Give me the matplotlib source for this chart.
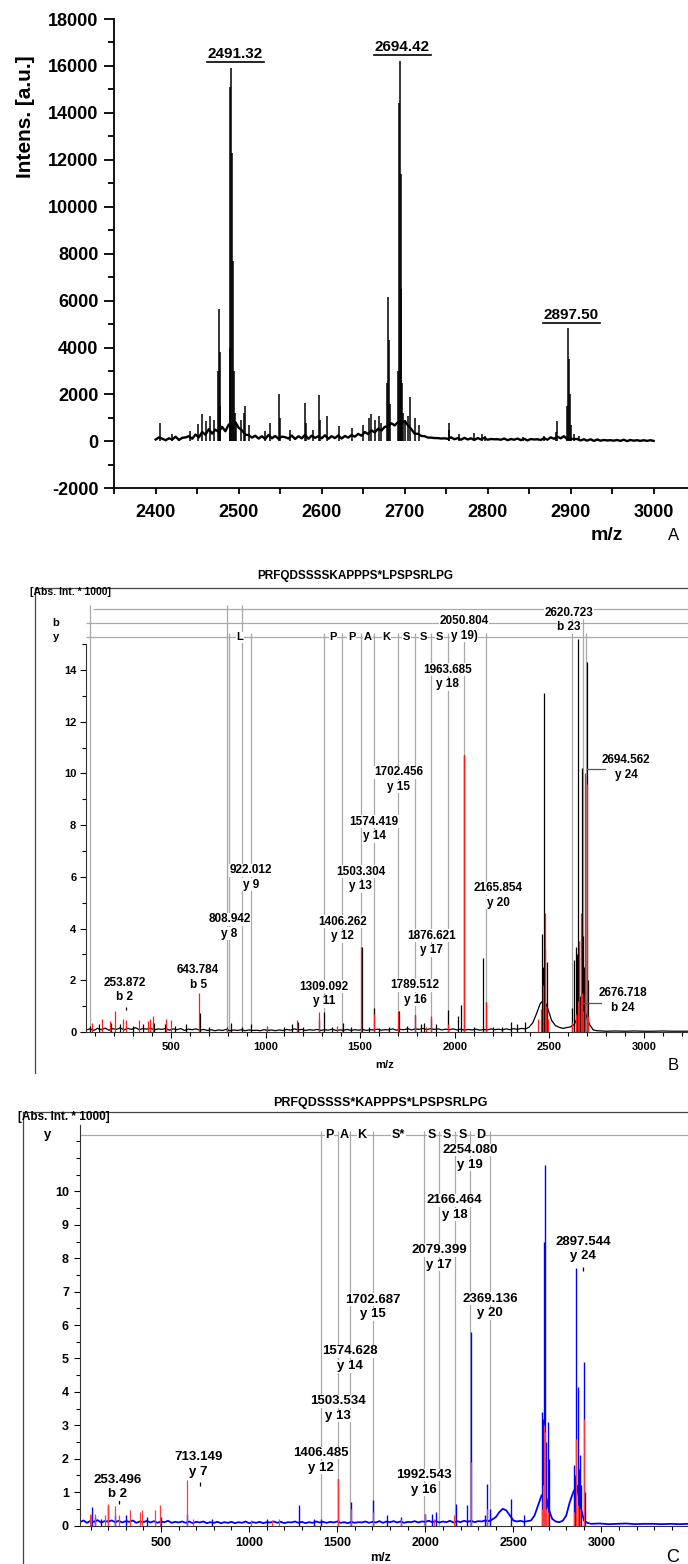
import matplotlib
matplotlib.use('Agg')
import matplotlib.pyplot as plt
from matplotlib.ticker import MultipleLocator, FixedLocator
from matplotlib.lines import Line2D

plt.rcParams['font.family'] = ['Liberation Sans', 'DejaVu Sans']
plt.rcParams['axes.unicode_minus'] = False

# ===================== DATA =====================
# ---- Panel A: MALDI-TOF MS spectrum ----
a_base_mz = list(range(2400, 3001, 4))
a_base_int = [80, 170, 110, 50, 130, 80, 200, 60, 150, 170,
              220, 110, 290, 170, 400, 280, 520, 330, 500, 400,
              620, 430, 720, 530, 820, 580, 470, 280, 270, 160,
              240, 120, 220, 100, 280, 130, 230, 110, 200, 180,
              120, 250, 100, 220, 130, 280, 110, 240, 150, 220,
              130, 260, 110, 220, 140, 250, 120, 230, 160, 270,
              200, 320, 240, 400, 310, 470, 380, 540, 460, 620,
              650, 770, 680, 820, 730, 870, 680, 520, 330, 320,
              230, 220, 160, 160, 140, 140, 120, 130, 110, 170,
              90, 140, 70, 150, 80, 130, 60, 140, 80, 150,
              70, 100, 90, 90, 70, 120, 50, 100, 70, 120,
              50, 110, 40, 100, 80, 90, 60, 140, 70, 170,
              110, 200, 130, 220, 90, 110, 100, 100, 40, 90,
              30, 90, 20, 80, 30, 60, 40, 50, 30, 60,
              20, 70, 10, 60, 30, 50, 20, 50, 20, 50,
              20]
a_peak_mz = [2405, 2420, 2441, 2451, 2456, 2461, 2466, 2470, 2475, 2476, 2477, 2478,
             2489, 2490, 2491, 2492, 2493, 2494, 2495, 2497, 2503, 2506, 2508, 2513,
             2532, 2538, 2549, 2550, 2562, 2580, 2581, 2590, 2597, 2598, 2607, 2621,
             2637, 2650, 2657, 2660, 2664, 2669, 2672, 2679, 2680, 2681, 2682, 2692,
             2693, 2694, 2695, 2696, 2697, 2698, 2700, 2704, 2707, 2712, 2717, 2753,
             2754, 2766, 2783, 2793, 2797, 2842, 2868, 2882, 2883, 2896, 2897, 2898,
             2899, 2900, 2904, 2910]
a_peak_int = [780, 300, 450, 750, 1170, 850, 1070, 900, 3000, 5650, 3800, 1500,
              4000, 15100, 15900, 12300, 7700, 3000, 1200, 700, 900, 1200, 1520, 700,
              450, 770, 2020, 1000, 500, 1640, 800, 500, 1960, 900, 1070, 650,
              550, 700, 1000, 1150, 900, 1100, 800, 2500, 6140, 4300, 1600, 3000,
              14400, 16230, 11400, 6500, 2500, 1200, 900, 1100, 1880, 1000, 700, 800,
              500, 300, 350, 310, 250, 200, 250, 400, 850, 1500, 4850, 3500,
              2000, 700, 300, 250]
a_labels = ['2491.32', '2694.42', '2897.50']
a_label_mz = [2496, 2697, 2901]
a_label_int = [16490, 16790, 5400]
a_xticks = [2400, 2500, 2600, 2700, 2800, 2900, 3000]

# ---- Panel B: MS/MS of PRFQDSSSSKAPPPS*LPSPSRLPG ----
b_title = 'PRFQDSSSSKAPPPS*LPSPSRLPG'
b_base_mz = list(range(52, 2733, 20)) + [2752, 2800, 2850, 2900, 2950, 3000, 3050, 3100, 3150, 3200, 3233]
b_base_int = [0.08, 0.12, 0.06, 0.14, 0.09, 0.15, 0.07, 0.13, 0.10, 0.16,
              0.08, 0.14, 0.10, 0.17, 0.09, 0.13, 0.11, 0.15, 0.08, 0.12,
              0.10, 0.14, 0.07, 0.12, 0.09, 0.13, 0.06, 0.11, 0.09, 0.12,
              0.07, 0.10, 0.06, 0.09, 0.05, 0.08, 0.06, 0.10, 0.05, 0.08,
              0.06, 0.09, 0.05, 0.08, 0.06, 0.07, 0.05, 0.09, 0.06, 0.08,
              0.05, 0.08, 0.06, 0.10, 0.07, 0.12, 0.08, 0.10, 0.06, 0.09,
              0.07, 0.10, 0.06, 0.09, 0.07, 0.11, 0.06, 0.08, 0.07, 0.10,
              0.06, 0.09, 0.07, 0.10, 0.06, 0.09, 0.08, 0.11, 0.07, 0.09,
              0.08, 0.12, 0.07, 0.10, 0.09, 0.13, 0.08, 0.12, 0.10, 0.14,
              0.09, 0.13, 0.10, 0.12, 0.08, 0.11, 0.09, 0.12, 0.08, 0.11,
              0.07, 0.10, 0.08, 0.11, 0.07, 0.10, 0.08, 0.12, 0.09, 0.11,
              0.08, 0.12, 0.09, 0.13, 0.10, 0.14, 0.12, 0.18, 0.35, 0.70,
              1.10, 1.25, 0.90, 0.45, 0.25, 0.18, 0.14, 0.17, 0.20, 0.30,
              0.60, 0.90, 0.70, 0.30, 0.08,
              0.05, 0.03, 0.04, 0.03, 0.04, 0.03, 0.03, 0.04, 0.03, 0.03, 0.03]
b_blk_mz = [74, 120, 185, 230, 300, 350, 410, 470, 520, 580, 651, 700, 796, 817, 878, 922,
            1010, 1100, 1140, 1170, 1200, 1284, 1310, 1350, 1409, 1450, 1509, 1545, 1574,
            1600, 1650, 1706, 1750, 1790, 1820, 1840, 1876, 1900, 1964, 2019, 2032, 2050,
            2100, 2148, 2164, 2200, 2250, 2296, 2330, 2370, 2461, 2466, 2472, 2478, 2490,
            2622, 2631, 2640, 2644, 2654, 2661, 2666, 2672, 2677, 2683, 2698, 2703]
b_blk_int = [0.25, 0.3, 0.35, 0.3, 0.25, 0.3, 0.35, 0.3, 0.25, 0.3, 0.75, 0.2, 0.2, 0.35, 0.2, 0.3,
             0.2, 0.2, 0.3, 0.4, 0.2, 0.5, 0.78, 0.2, 0.36, 0.2, 3.3, 0.2, 0.94,
             0.15, 0.2, 0.8, 0.25, 0.66, 0.3, 0.35, 0.5, 0.3, 0.84, 0.6, 1.05, 10.7,
             0.2, 2.85, 1.15, 0.2, 0.2, 0.4, 0.3, 0.4, 3.8, 2.5, 13.1, 3.2, 2.7,
             0.93, 2.8, 3.3, 3.0, 15.2, 1.4, 3.6, 10.2, 3.7, 2.5, 14.3, 2.0]
b_red_mz = [81, 134, 178, 202, 244, 260, 331, 380, 389, 403, 472, 498, 650, 796, 1009, 1164,
            1284, 1376, 1504, 1574, 1702, 1789, 1850, 1876, 1963, 2050, 2164, 2440, 2455,
            2466, 2477, 2485, 2495, 2620, 2640, 2650, 2655, 2665, 2672, 2680, 2690, 2697, 2705]
b_red_int = [0.35, 0.5, 0.44, 0.8, 0.5, 0.45, 0.47, 0.43, 0.5, 0.62, 0.5, 0.45, 1.5, 0.17, 0.23, 0.47,
             0.76, 0.25, 3.3, 0.7, 0.8, 0.66, 0.2, 0.6, 0.3, 10.7, 1.15, 0.5, 0.9,
             1.8, 4.6, 1.0, 0.5, 0.4, 0.7, 1.2, 3.5, 4.6, 1.5, 0.8, 10.0, 9.6, 0.6]
b_top_ions = [74, 796, 878]
b_b_ions = [2620.723, 2676.718]
b_y_ions = [808.942, 922.012, 1309.092, 1406.262, 1503.304, 1574.419, 1702.456, 1789.512,
            1876.621, 1963.685, 2050.804, 2165.854, 2694.562]
b_seq = ['L', 'P', 'P', 'A', 'K', 'S', 'S', 'S']
b_seq_mz = [865.5, 1357.7, 1454.8, 1538.9, 1638.4, 1746.0, 1833.1, 1920.2]
b_lab_mass = ['253.872', '643.784', '808.942', '922.012', '1309.092', '1406.262', '1503.304',
              '1574.419', '1702.456', '1789.512', '1876.621', '1963.685', '2050.804',
              '2165.854', '2620.723', '2694.562', '2676.718']
b_lab_ion = ['b 2', 'b 5', 'y 8', 'y 9', 'y 11', 'y 12', 'y 13', 'y 14', 'y 15', 'y 16',
             'y 17', 'y 18', 'y 19)', 'y 20', 'b 23', 'y 24', 'b 24']
b_lab_mz = [253.872, 643.784, 808.942, 922.012, 1309.092, 1406.262, 1503.304, 1574.419, 1702.456,
            1789.512, 1876.621, 1963.685, 2050.804, 2229, 2603, 2905, 2889]
b_lab_val = [1.63, 2.11, 4.08, 5.97, 1.47, 3.98, 5.92, 7.85, 9.76,
             1.53, 3.44, 13.73, 15.60, 5.28, 15.93, 10.23, 1.22]
b_xticks = [500, 1000, 1500, 2000, 2500, 3000]
b_yticks = [0, 2, 4, 6, 8, 10, 12, 14]

# ---- Panel C: MS/MS of PRFQDSSSS*KAPPPS*LPSPSRLPG ----
c_title = 'PRFQDSSSS*KAPPPS*LPSPSRLPG'
c_base_mz = list(range(40, 2921, 20)) + [2940, 2990, 3040, 3090, 3140, 3190, 3240, 3290, 3340, 3390, 3440, 3490]
c_base_int = [0.10, 0.15, 0.08, 0.14, 0.11, 0.16, 0.09, 0.13, 0.12, 0.15,
              0.10, 0.14, 0.09, 0.13, 0.11, 0.15, 0.08, 0.12, 0.10, 0.14,
              0.09, 0.13, 0.08, 0.12, 0.10, 0.14, 0.08, 0.11, 0.09, 0.12,
              0.08, 0.12, 0.07, 0.11, 0.09, 0.12, 0.07, 0.10, 0.08, 0.11,
              0.07, 0.10, 0.08, 0.11, 0.07, 0.10, 0.08, 0.12, 0.07, 0.10,
              0.08, 0.11, 0.07, 0.10, 0.09, 0.12, 0.08, 0.11, 0.07, 0.10,
              0.09, 0.12, 0.08, 0.11, 0.07, 0.10, 0.08, 0.12, 0.09, 0.11,
              0.08, 0.11, 0.09, 0.12, 0.08, 0.10, 0.07, 0.11, 0.08, 0.10,
              0.09, 0.12, 0.08, 0.11, 0.09, 0.13, 0.08, 0.12, 0.10, 0.13,
              0.09, 0.12, 0.08, 0.11, 0.10, 0.13, 0.09, 0.12, 0.11, 0.14,
              0.10, 0.13, 0.09, 0.12, 0.10, 0.14, 0.09, 0.13, 0.10, 0.14,
              0.11, 0.14, 0.10, 0.13, 0.12, 0.15, 0.13, 0.18, 0.25, 0.40,
              0.50, 0.45, 0.30, 0.15, 0.12, 0.14, 0.11, 0.13, 0.15, 0.30,
              0.60, 0.90, 1.00, 0.50, 0.20, 0.12, 0.10, 0.14, 0.30, 0.70,
              1.00, 1.20, 0.60, 0.15, 0.08,
              0.05, 0.06, 0.04, 0.05, 0.06, 0.04, 0.05, 0.05, 0.04, 0.05, 0.04, 0.05]
c_blu_mz = [108, 127, 160, 199, 237, 300, 420, 500, 645, 790, 1100, 1284, 1370, 1408, 1506,
            1576, 1704, 1780, 1860, 1998, 2040, 2060, 2175, 2238, 2257, 2340, 2353, 2370,
            2486, 2560, 2662, 2668, 2675, 2680, 2686, 2694, 2700, 2845, 2852, 2858, 2864,
            2870, 2877, 2884, 2902, 2906]
c_blu_int = [0.55, 0.25, 0.2, 0.6, 0.3, 0.3, 0.25, 0.25, 0.35, 0.2, 0.2, 0.6, 0.2, 0.2, 1.4,
             0.7, 0.75, 0.3, 0.25, 0.35, 0.35, 0.4, 0.65, 0.6, 5.8, 0.3, 1.25, 0.5,
             0.8, 0.3, 3.4, 3.2, 8.5, 10.8, 2.5, 3.1, 2.0, 1.8, 1.5, 7.7, 4.15,
             1.7, 2.1, 1.2, 4.9, 1.0]
c_red_mz = [96, 104, 127, 180, 199, 237, 260, 323, 380, 395, 468, 493, 645, 680, 1010, 1130,
            1170, 1506, 1576, 1704, 1860, 1998, 2050, 2165, 2257, 2353, 2660, 2668, 2675,
            2680, 2686, 2694, 2845, 2858, 2864, 2880, 2902]
c_red_int = [0.35, 0.3, 0.35, 0.3, 0.63, 0.57, 0.3, 0.45, 0.4, 0.45, 0.45, 0.6, 1.35, 0.2, 0.15, 0.15,
             0.2, 1.4, 0.5, 0.4, 0.2, 0.35, 0.2, 0.3, 1.9, 0.5, 0.5, 1.2, 3.0,
             2.8, 0.5, 0.4, 0.4, 2.6, 0.6, 0.5, 3.2]
c_y_ions = [1406.485, 1503.534, 1574.628, 1702.687, 1992.543, 2079.399, 2166.464, 2254.080, 2369.136]
c_seq = ['P', 'A', 'K', 'S*', 'S', 'S', 'S', 'D']
c_seq_mz = [1455.0, 1539.1, 1638.7, 1847.6, 2036.0, 2122.9, 2210.3, 2311.6]
c_lab_mass = ['253.496', '713.149', '1406.485', '1503.534', '1574.628', '1702.687', '1992.543',
              '2079.399', '2166.464', '2254.080', '2369.136', '2897.544']
c_lab_ion = ['b 2', 'y 7', 'y 12', 'y 13', 'y 14', 'y 15', 'y 16', 'y 17', 'y 18', 'y 19',
             'y 20', 'y 24']
c_lab_mz = [253.496, 713.149, 1406.485, 1503.534, 1574.628, 1702.687, 1992.543, 2079.399,
            2166.464, 2254.080, 2369.136, 2897.544]
c_lab_val = [1.15, 1.83, 1.95, 3.5, 4.99, 6.54, 1.29, 8.02, 9.52, 11.02, 6.57, 8.28]
c_xticks = [500, 1000, 1500, 2000, 2500, 3000]
c_yticks = [0, 1, 2, 3, 4, 5, 6, 7, 8, 9, 10]

# ===================== FIGURE =====================
W, H = 688, 1564
fig = plt.figure(figsize=(W / 100, H / 100), dpi=100)
fig.patch.set_facecolor('white')


def ax_px(l, t, r, b):
    return fig.add_axes([l / W, 1 - b / H, (r - l) / W, (b - t) / H])


def ftext(x, y, s, **kw):
    return fig.text(x / W, 1 - y / H, s, **kw)


def fline(xs, ys, **kw):
    fig.add_artist(Line2D([x / W for x in xs], [1 - y / H for y in ys],
                          transform=fig.transFigure, **kw))


def bold_ticks(ax):
    for lab in ax.get_xticklabels() + ax.get_yticklabels():
        lab.set_fontweight('bold')


def ion_label(ax, m, v, mass, ion, dy, fs):
    box = dict(fc='white', ec='none', pad=0.3)
    ax.text(m, v + dy, mass, ha='center', va='center', fontsize=fs, fontweight='bold',
            zorder=5, bbox=box)
    ax.text(m, v - dy, ion, ha='center', va='center', fontsize=fs, fontweight='bold',
            zorder=5, bbox=box)


GREY = '#a8a8a8'

# ---------------- Panel A ----------------
axA = ax_px(113.6, 19, 688, 488.3)
axA.plot(a_base_mz, a_base_int, color='black', lw=1.7)
axA.vlines(a_peak_mz, 0, a_peak_int, color='black', lw=1.1)
axA.set_xlim(2349.3, 3041.4)
axA.set_ylim(-2000, 18000)
for s in ['top', 'right']:
    axA.spines[s].set_visible(False)
for s in ['left', 'bottom']:
    axA.spines[s].set_linewidth(1.3)
axA.xaxis.set_major_locator(FixedLocator(a_xticks))
axA.xaxis.set_minor_locator(MultipleLocator(50))
axA.yaxis.set_major_locator(MultipleLocator(2000))
axA.yaxis.set_minor_locator(MultipleLocator(1000))
axA.tick_params(axis='y', which='major', length=7, width=1.3, labelsize=13, pad=4)
axA.tick_params(axis='y', which='minor', length=4, width=1.3)
axA.tick_params(axis='x', which='major', length=4, width=1.3, labelsize=13, pad=7)
axA.tick_params(axis='x', which='minor', length=4, width=1.3)
bold_ticks(axA)
a_text_objs = []
for t, x, y in zip(a_labels, a_label_mz, a_label_int):
    a_text_objs.append(axA.text(x, y, t, ha='center', va='center', fontsize=11,
                                fontweight='bold'))
ftext(25.5, 117, 'Intens. [a.u.]', rotation=90, ha='center', va='center',
      fontsize=15, fontweight='bold')
ftext(607, 535, 'm/z', ha='center', va='center', fontsize=14, fontweight='bold')
ftext(674, 535, 'A', ha='center', va='center', fontsize=12)

# ---------------- Panel B ----------------
axB = ax_px(86, 595, 688, 1032)
axB.set_xlim(51, 3233)
axB.set_ylim(0, 16.9)
axB.plot(b_base_mz, b_base_int, color='black', lw=0.9, zorder=2)
axB.vlines(b_blk_mz, 0, b_blk_int, color='black', lw=0.9, zorder=2)
axB.vlines(b_red_mz, 0, b_red_int, color='#ff1a1a', lw=0.9, zorder=3)
B_TOP, B_B, B_Y = 16.36, 15.82, 15.27
axB.hlines(B_TOP, 90, 3233, color=GREY, lw=0.9, zorder=1)
axB.hlines(B_B, 51, 3233, color=GREY, lw=0.9, zorder=1)
axB.hlines(B_Y, 51, 3233, color=GREY, lw=0.9, zorder=1)
axB.vlines(b_top_ions, 0, B_TOP + 0.15, color=GREY, lw=0.9, zorder=1)
axB.vlines(b_b_ions, 0, B_B + 0.15, color=GREY, lw=0.9, zorder=1)
axB.vlines(b_y_ions, 0, B_Y + 0.15, color=GREY, lw=0.9, zorder=1)
for s, m in zip(b_seq, b_seq_mz):
    axB.text(m, B_Y, s, ha='center', va='center', fontsize=8, fontweight='bold', zorder=4,
             bbox=dict(fc='white', ec='none', pad=0.4))
for ms, io, m, v in zip(b_lab_mass, b_lab_ion, b_lab_mz, b_lab_val):
    ion_label(axB, m, v, ms, io, 0.28, 8.5)
axB.plot([2700, 2795], [10.17, 10.17], color='#555555', lw=0.9, zorder=4)
axB.plot([2680, 2775], [1.13, 1.13], color='#555555', lw=0.9, zorder=4)
axB.vlines([261], 0.85, 0.98, color='black', lw=0.9, zorder=4)
for s in ['top', 'right']:
    axB.spines[s].set_visible(False)
axB.spines['left'].set_bounds(0, 15.0)
axB.spines['left'].set_color('#333333')
axB.spines['bottom'].set_color('#333333')
axB.xaxis.set_major_locator(FixedLocator(b_xticks))
axB.xaxis.set_minor_locator(MultipleLocator(100))
axB.yaxis.set_major_locator(FixedLocator(b_yticks))
axB.yaxis.set_minor_locator(FixedLocator(list(range(1, 16))))
axB.tick_params(axis='both', which='major', length=4, width=0.8, labelsize=8, pad=3)
axB.tick_params(axis='both', which='minor', length=3, width=0.8)
bold_ticks(axB)
ftext(355, 576, b_title, ha='center', va='center', fontsize=8.5, fontweight='bold')
fline([35, 688], [588, 588], color='#444444', lw=0.9)
fline([35, 35], [588, 1073], color='#444444', lw=0.9)
ftext(30, 592, '[Abs. Int. * 1000]', ha='left', va='center', fontsize=7.5, fontweight='bold')
ftext(56, 623, 'b', ha='center', va='center', fontsize=8, fontweight='bold')
ftext(56, 637, 'y', ha='center', va='center', fontsize=8, fontweight='bold')
ftext(385, 1065, 'm/z', ha='center', va='center', fontsize=8, fontweight='bold')
ftext(673, 1065, 'B', ha='center', va='center', fontsize=12)

# ---------------- Panel C ----------------
axC = ax_px(80, 1125, 688, 1525.5)
axC.set_xlim(40.3, 3491)
axC.set_ylim(0, 11.99)
axC.plot(c_base_mz, c_base_int, color='#0000ff', lw=1.3, zorder=2)
axC.vlines(c_blu_mz, 0, c_blu_int, color='#0000ff', lw=1.0, zorder=2)
axC.vlines(c_red_mz, 0, c_red_int, color='#ff3b3b', lw=0.9, zorder=3)
C_Y = 11.68
axC.hlines(C_Y, 40.3, 3491, color=GREY, lw=0.9, zorder=1)
axC.vlines(c_y_ions, 0, C_Y + 0.12, color=GREY, lw=0.9, zorder=1)
for s, m in zip(c_seq, c_seq_mz):
    axC.text(m, C_Y, s, ha='center', va='center', fontsize=9, fontweight='bold', zorder=4,
             bbox=dict(fc='white', ec='none', pad=0.4))
for ms, io, m, v in zip(c_lab_mass, c_lab_ion, c_lab_mz, c_lab_val):
    ion_label(axC, m, v, ms, io, 0.22, 9.5)
axC.vlines([261, 718.6, 2897.544], [0.64, 1.18, 7.62], [0.78, 1.3, 7.74], color='black',
           lw=0.9, zorder=4)
for s in ['top', 'right']:
    axC.spines[s].set_visible(False)
axC.spines['left'].set_color('#333333')
axC.spines['bottom'].set_color('#333333')
axC.xaxis.set_major_locator(FixedLocator(c_xticks))
axC.xaxis.set_minor_locator(MultipleLocator(100))
axC.yaxis.set_major_locator(FixedLocator(c_yticks))
axC.yaxis.set_minor_locator(MultipleLocator(0.5))
axC.tick_params(axis='both', which='major', length=4, width=0.8, labelsize=9, pad=4)
axC.tick_params(axis='both', which='minor', length=3, width=0.8)
bold_ticks(axC)
ftext(380, 1103, c_title, ha='center', va='center', fontsize=9, fontweight='bold')
fline([23, 688], [1112, 1112], color='#444444', lw=0.9)
fline([23, 23], [1112, 1564], color='#444444', lw=0.9)
ftext(18, 1117, '[Abs. Int. * 1000]', ha='left', va='center', fontsize=8.5, fontweight='bold')
ftext(48, 1135, 'y', ha='center', va='center', fontsize=9.5, fontweight='bold')
ftext(381, 1558, 'm/z', ha='center', va='center', fontsize=9, fontweight='bold')
ftext(673, 1557, 'C', ha='center', va='center', fontsize=13)

# underline panel A peak labels
fig.canvas.draw()
for t in a_text_objs:
    bb = t.get_window_extent()
    y = bb.y0 - 1
    fig.add_artist(Line2D([(bb.x0 - 1) / W, (bb.x1 + 1) / W], [y / H, y / H],
                          transform=fig.transFigure, color='black', lw=1.2))

fig.savefig('out.png', dpi=100)
